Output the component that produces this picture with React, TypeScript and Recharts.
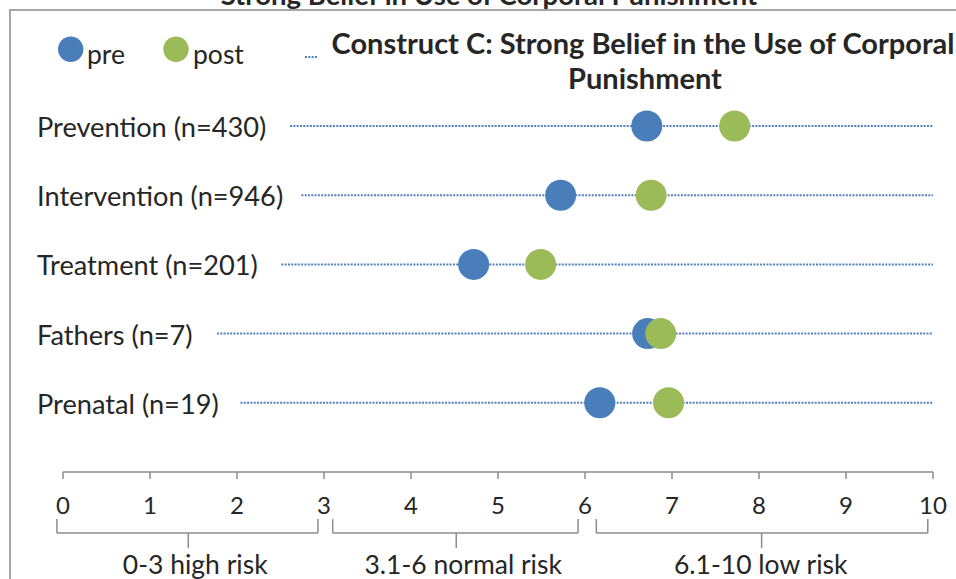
import React from 'react';
import { ScatterChart, Scatter, XAxis, YAxis, ReferenceLine, ReferenceDot, Legend } from 'recharts';

const FONT = 'Lato, "Open Sans", sans-serif';
const BLUE = '#4a7ebb';
const GREEN = '#9bbb59';
const LINE_BLUE = '#4f81bd';
const GRAY = '#8c8c8c';
const TEXT = '#262626';

// rows, top to bottom
const categories = ['Prevention (n=430)', 'Intervention (n=946)', 'Treatment (n=201)', 'Fathers (n=7)', 'Prenatal (n=19)'];
const rowPos = [5, 4, 3, 2, 1];
const preValues = [6.71, 5.72, 4.72, 6.72, 6.17];
const postValues = [7.72, 6.76, 5.49, 6.87, 6.96];
// where each dotted guide line begins (axis units); they all run to 10
const lineStart = [2.61, 2.74, 2.51, 1.77, 2.04];
const lineEnd = 10;

const xTicks = [0, 1, 2, 3, 4, 5, 6, 7, 8, 9, 10];

const bandLabels = ['0-3 high risk', '3.1-6 normal risk', '6.1-10 low risk'];
const bandFrom = [-0.07, 3.1, 6.13];
const bandTo = [2.93, 5.92, 9.94];
const bandMid = [1.44, 4.52, 8.03];
const bandLabelX = [1.52, 4.6, 8.02];

const preData = categories.map((c, i) => ({ x: preValues[i], y: rowPos[i], name: c }));
const postData = categories.map((c, i) => ({ x: postValues[i], y: rowPos[i], name: c }));

const Dot = (color: string) => (props: any) => (
  <circle cx={props.cx} cy={props.cy} r={15.5} fill={color} />
);

const RowTick = (props: any) => {
  const idx = rowPos.indexOf(props.payload.value);
  if (idx < 0) return null;
  return (
    <text x={37} y={props.y + 11} fontSize={27.2} fontFamily={FONT} fill={TEXT} textAnchor="start">
      {categories[idx]}
    </text>
  );
};

const LegendBox = () => (
  <svg width={340} height={80}>
    <circle cx={70.7} cy={49.3} r={12.7} fill={BLUE} />
    <text x={87} y={64} fontSize={26.5} fontFamily={FONT} fill={TEXT}>pre</text>
    <circle cx={176} cy={49.3} r={12.7} fill={GREEN} />
    <text x={193} y={64} fontSize={26.5} fontFamily={FONT} fill={TEXT}>post</text>
    <line x1={305} y1={57} x2={318} y2={57} stroke={LINE_BLUE} strokeWidth={2} strokeDasharray="2 1.3" />
  </svg>
);

export default function App() {
  const braceStroke = { stroke: GRAY, strokeWidth: 1.5, ifOverflow: 'visible' as const };
  return (
    <div style={{ position: 'absolute', left: 0, top: 0, width: 956, height: 579, overflow: 'hidden', background: '#fff' }}>
      <div style={{ position: 'absolute', left: 9, top: 9, width: 1100, height: 700, border: '2px solid #a6a6a6' }} />
      <svg width={956} height={579} style={{ position: 'absolute', left: 0, top: 0 }}>
        <text x={489} y={5} textAnchor="middle" fontSize={27.5} fontWeight="bold" fontFamily={FONT} fill={TEXT}>
          Strong Belief in Use of Corporal Punishment
        </text>
        <text x={643} y={54} textAnchor="middle" fontSize={29} fontWeight="bold" fontFamily={FONT} fill={TEXT}>
          Construct C: Strong Belief in the Use of Corporal
        </text>
        <text x={645} y={89} textAnchor="middle" fontSize={29} fontWeight="bold" fontFamily={FONT} fill={TEXT}>
          Punishment
        </text>
      </svg>
      <div style={{ position: 'absolute', left: 0, top: 0 }}>
        <ScatterChart width={956} height={579} margin={{ top: 56.8, right: 23, bottom: 67, left: 0 }}>
          <XAxis
            type="number"
            dataKey="x"
            domain={[0, 10]}
            ticks={xTicks}
            interval={0}
            height={40}
            axisLine={{ stroke: GRAY, strokeWidth: 1.5 }}
            tickLine={{ stroke: GRAY, strokeWidth: 1.5 }}
            tickSize={7}
            tickMargin={18}
            tick={{ fontSize: 24, fill: TEXT, fontFamily: FONT }}
          />
          <YAxis
            type="number"
            dataKey="y"
            domain={[0, 6]}
            allowDataOverflow
            ticks={[1, 2, 3, 4, 5]}
            width={63}
            axisLine={false}
            tickLine={false}
            tick={<RowTick />}
          />
          <Legend
            layout="vertical"
            align="center"
            verticalAlign="middle"
            wrapperStyle={{ top: 0, left: 0, width: 340, height: 80 }}
            content={() => <LegendBox />}
          />
          {categories.map((c, i) => (
            <ReferenceLine
              key={c}
              segment={[{ x: lineStart[i], y: rowPos[i] }, { x: lineEnd, y: rowPos[i] }]}
              stroke={LINE_BLUE}
              strokeWidth={2}
              strokeDasharray="2 1.3"
              ifOverflow="visible"
            />
          ))}
          {bandLabels.map((b, i) => [
            <ReferenceLine key={b + 'l'} segment={[{ x: bandFrom[i], y: -0.68 }, { x: bandFrom[i], y: -0.88 }]} {...braceStroke} />,
            <ReferenceLine key={b + 'h'} segment={[{ x: bandFrom[i], y: -0.88 }, { x: bandTo[i], y: -0.88 }]} {...braceStroke} />,
            <ReferenceLine key={b + 'r'} segment={[{ x: bandTo[i], y: -0.68 }, { x: bandTo[i], y: -0.88 }]} {...braceStroke} />,
            <ReferenceLine key={b + 's'} segment={[{ x: bandMid[i], y: -0.88 }, { x: bandMid[i], y: -1.1 }]} {...braceStroke} />,
            <ReferenceDot
              key={b + 't'}
              x={bandLabelX[i]}
              y={-1.34}
              r={0}
              ifOverflow="visible"
              stroke="none"
              label={{ value: b, position: 'center', fontSize: 26.5, fill: TEXT, fontFamily: FONT }}
            />,
          ])}
          <Scatter name="pre" data={preData} fill={BLUE} shape={Dot(BLUE)} isAnimationActive={false} />
          <Scatter name="post" data={postData} fill={GREEN} shape={Dot(GREEN)} isAnimationActive={false} />
        </ScatterChart>
      </div>
    </div>
  );
}
